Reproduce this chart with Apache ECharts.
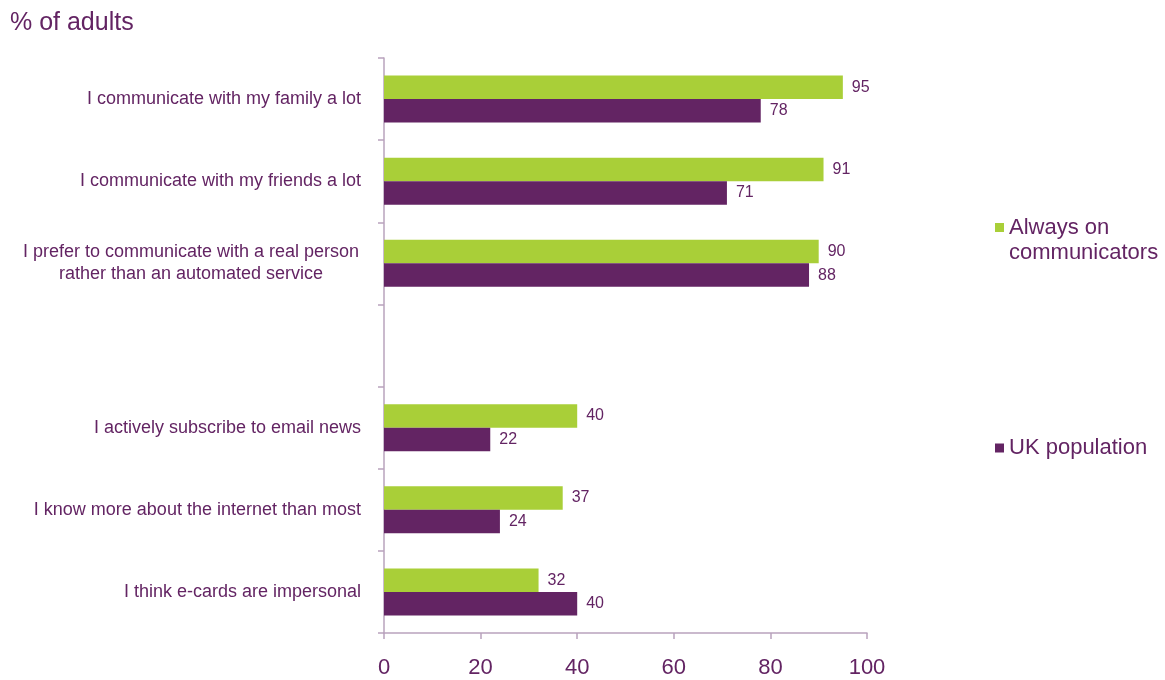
<!DOCTYPE html>
<html>
<head>
<meta charset="utf-8">
<script src="https://cdn.jsdelivr.net/npm/echarts@6/dist/echarts.min.js"></script>
<style>
  html, body { margin: 0; padding: 0; background: #fff; }
  #chart { width: 1165px; height: 680px; }
</style>
</head>
<body>
<div id="chart"></div>
<script>
// Statements, top to bottom; the blank entry leaves a gap between the two groups
const categories = [
  'I communicate with my family a lot',
  'I communicate with my friends a lot',
  'I prefer to communicate with a real person\nrather than an automated service',
  '',
  'I actively subscribe to email news',
  'I know more about the internet than most',
  'I think e-cards are impersonal'
];
const alwaysOn = [95, 91, 90, null, 40, 37, 32];
const ukPopulation = [78, 71, 88, null, 22, 24, 40];
const xTicks = [0, 20, 40, 60, 80, 100];

const PURPLE = '#632463';
const GREEN = '#a9cf38';
const AXIS = '#b9a3bd';
const FONT = '"Liberation Sans", Arial, sans-serif';

// Multi-line statements are centred line by line; single lines sit flush right
function categoryLabel(v) {
  if (v.indexOf('\n') < 0) return v;
  return v.split('\n').map(line => '{c|' + line + '}').join('\n');
}

// Square marker that sits level with the first line of a two-line legend entry
const TOP_SQUARE = 'path://M0,0L9,0L9,9L0,9Z M0,34L0.01,34';

const valueLabel = {
  show: true, position: 'right', distance: 9,
  color: PURPLE, fontSize: 16, fontFamily: FONT
};

const chart = echarts.init(document.getElementById('chart'));
chart.setOption({
  animation: false,
  textStyle: { fontFamily: FONT },
  title: {
    text: '% of adults',
    left: 5, top: 6,
    textStyle: { color: PURPLE, fontSize: 25, fontWeight: 'normal', fontFamily: FONT }
  },
  legend: [
    {
      data: ['Always on communicators'],
      left: 995, top: 215, padding: 0,
      icon: TOP_SQUARE, itemWidth: 9, itemHeight: 34,
      formatter: () => 'Always on\ncommunicators',
      textStyle: { color: PURPLE, fontSize: 22, lineHeight: 25, fontFamily: FONT }
    },
    {
      data: ['UK population'],
      left: 995, top: 437, padding: 0,
      icon: 'rect', itemWidth: 9, itemHeight: 9,
      textStyle: { color: PURPLE, fontSize: 22, fontFamily: FONT }
    }
  ],
  grid: { left: 384, right: 298, top: 58, bottom: 47, containLabel: false },
  xAxis: {
    type: 'value',
    min: xTicks[0], max: xTicks[xTicks.length - 1], interval: 20,
    axisLine: { show: true, lineStyle: { color: AXIS, width: 1.5 } },
    axisTick: { show: true, length: 6, lineStyle: { color: AXIS, width: 1.5 } },
    splitLine: { show: false },
    axisLabel: { color: PURPLE, fontSize: 22, margin: 24, fontFamily: FONT }
  },
  yAxis: {
    type: 'category',
    inverse: true,
    data: categories,
    axisLine: { show: true, lineStyle: { color: AXIS, width: 1.5 } },
    axisTick: { show: true, length: 6, lineStyle: { color: AXIS, width: 1.5 } },
    axisLabel: {
      color: PURPLE, fontSize: 18, margin: 23, lineHeight: 22, fontFamily: FONT,
      formatter: categoryLabel,
      rich: {
        c: { width: 340, align: 'center', color: PURPLE, fontSize: 18, lineHeight: 22, fontFamily: FONT }
      }
    }
  },
  series: [
    {
      name: 'Always on communicators',
      type: 'bar',
      data: alwaysOn,
      barWidth: 23.5,
      barGap: '0%',
      itemStyle: { color: GREEN },
      label: valueLabel
    },
    {
      name: 'UK population',
      type: 'bar',
      data: ukPopulation,
      barWidth: 23.5,
      barGap: '0%',
      itemStyle: { color: PURPLE },
      label: valueLabel
    }
  ]
});
</script>
</body>
</html>
